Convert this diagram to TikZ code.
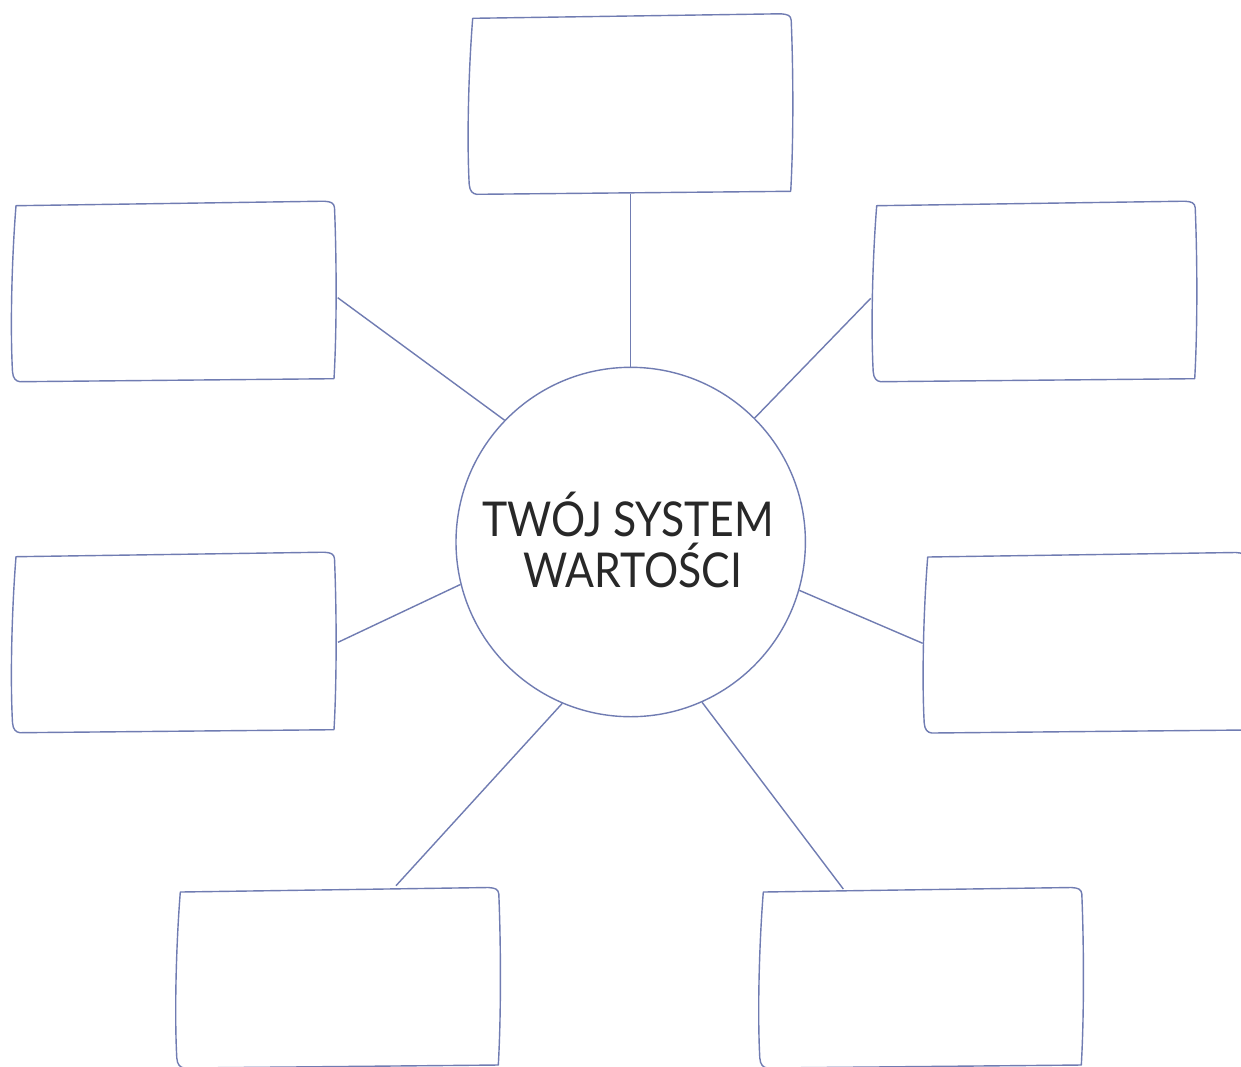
\documentclass[tikz,border=0pt]{standalone}
\usepackage{fontspec}
\setmainfont{Lato}
\definecolor{lineblue}{RGB}{112,124,178}
\definecolor{textgray}{RGB}{40,40,40}
\tikzset{
  outline/.style={draw=lineblue, line width=1.4pt, line join=round},
  spoke/.style={draw=lineblue, line width=1.4pt},
  titletext/.style={text=textgray, font=\fontsize{48}{56}\selectfont, inner sep=0pt, anchor=base}
}
\newcommand{\handbox}[2]{%
  \begin{scope}[shift={(#1,#2)}]
    \path[outline] (0,0) -- (308,-4.5) .. controls (315,-4) and (318,-3) .. (318.5,2)
      .. controls (320.5,50) and (321,120) .. (318,173) -- (4,176)
      .. controls (0,175.5) and (-3,173) .. (-3.5,166)
      .. controls (-6,120) and (-4,50) .. (0,0) -- cycle;
  \end{scope}}
\begin{document}
\begin{tikzpicture}[x=1pt,y=-1pt]
\useasboundingbox (0,0) rectangle (1241,1066);
\clip (0,0) rectangle (1241,1066);
\fill[white] (0,0) rectangle (1241,1066);
% boxes
\handbox{472.7}{18.3}
\handbox{16}{205.7}
\handbox{876.7}{205.7}
\handbox{16}{556.7}
\handbox{927.7}{557}
\handbox{180.3}{892}
\handbox{763.3}{892}
% box attachment points
\coordinate (bt) at (630.7,193.5);
\coordinate (bul) at (337.7,297.7);
\coordinate (bur) at (870.7,298.3);
\coordinate (bml) at (338,642.3);
\coordinate (bmr) at (922.7,643.3);
\coordinate (bbl) at (396,885.7);
\coordinate (bbr) at (843.3,889);
% centre circle
\node[circle, draw=lineblue, line width=1.4pt, minimum size=349.4pt, inner sep=0pt] (c) at (630.7,542) {};
\node[titletext] (t1) at (628.3,536.7) {\scalebox{0.89}[1]{TWÓJ SYSTEM}};
\node[titletext] (t2) at (632.5,587.3) {\scalebox{0.89}[1]{WARTOŚCI}};
% spokes
\draw[spoke] (c.90) -- (bt);
\draw[spoke] (c.136.1) -- (bul);
\draw[spoke] (c.45.5) -- (bur);
\draw[spoke] (c.194.5) -- (bml);
\draw[spoke] (c.344.2) -- (bmr);
\draw[spoke] (c.247.8) -- (bbl);
\draw[spoke] (c.294.5) -- (bbr);
\end{tikzpicture}
\end{document}
